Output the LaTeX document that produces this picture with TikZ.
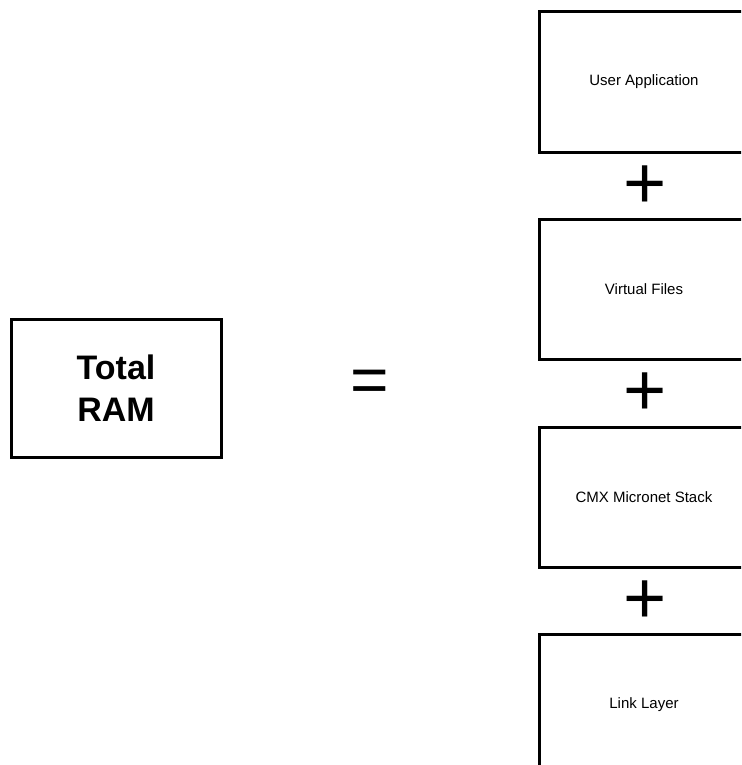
\documentclass[tikz,border=0pt]{standalone}
\usepackage{fontspec}
\setmainfont{Liberation Sans}
\usetikzlibrary{positioning}

\tikzset{
    layerbox/.style={draw, line width=3pt, minimum width=210pt, minimum height=140pt,
        font=\fontsize{15}{18}\selectfont},
    totalbox/.style={draw, line width=3pt, minimum width=210pt, minimum height=138pt,
        align=center, font=\fontsize{34}{42}\selectfont\bfseries},
    sumsign/.style={inner sep=0pt, font=\fontsize{74}{74}\selectfont},
}

\begin{document}
\begin{tikzpicture}[x=1pt, y=-1pt]
    \def\layerX{644}
    \def\layerStep{207.5}

    \useasboundingbox (0,0) rectangle (741,765);
    \clip (0,0) rectangle (741,765);

    %lado esquerdo
    \node[totalbox] (total) at (116,388) {Total\\RAM};
    \node[inner sep=0pt, font=\fontsize{66}{66}\selectfont] (equals) at (370,386) {=};

    %camadas
    \foreach \i/\label in {
        0/User Application, 1/Virtual Files, 2/CMX Micronet Stack, 3/Link Layer
    } {
        \node[layerbox] (layer\i) at (\layerX, 82+\i*\layerStep) {\label};
    }

    \foreach \i in {0, 1, 2} {
        \node[sumsign] (plus\i) at (645, 187+\i*\layerStep) {+};
    }
\end{tikzpicture}
\end{document}
